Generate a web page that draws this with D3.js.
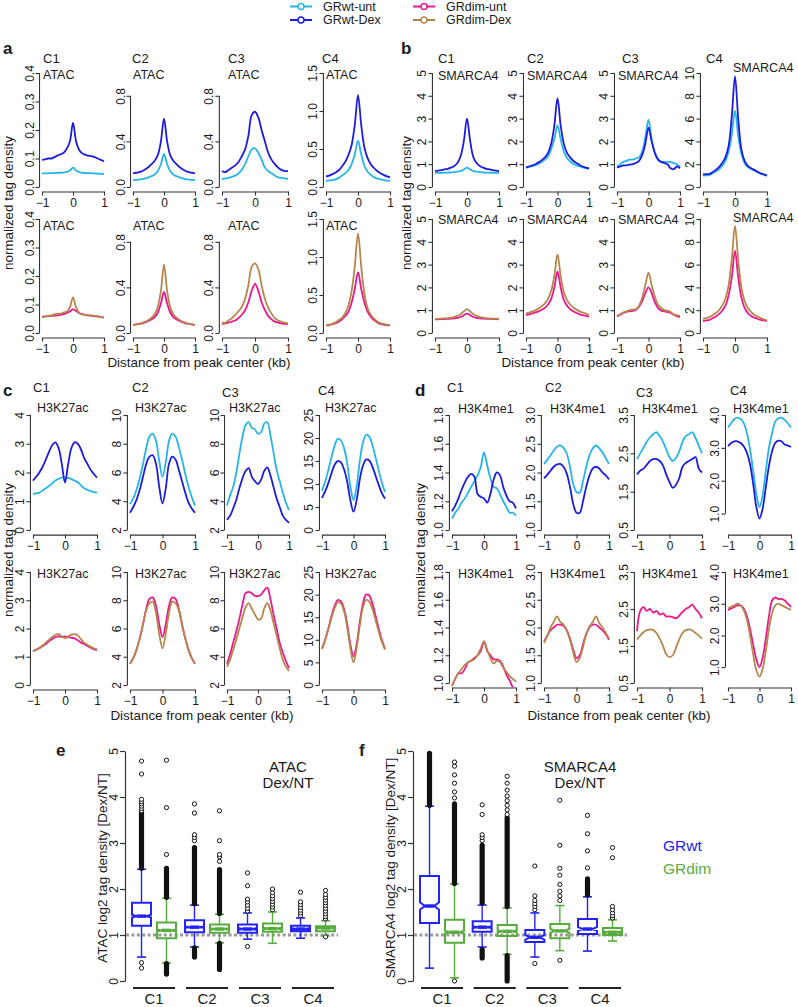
<!DOCTYPE html>
<html>
<head>
<meta charset="utf-8">
<script src="https://cdn.jsdelivr.net/npm/d3@7"></script>
<style>
  body { margin: 0; background: #fff; }
  svg text { font-family: "Liberation Sans", Arial, sans-serif; fill: #1a1a1a; }
</style>
</head>
<body>
<svg id="fig" width="798" height="1007"></svg>
<script>
// ---- data ----
var distKb = [-1,-0.9,-0.8,-0.7,-0.6,-0.5,-0.4,-0.3,-0.2,-0.1,0,0.1,0.2,0.3,0.4,0.5,0.6,0.7,0.8,0.9,1];
var clusters = ["C1", "C2", "C3", "C4"];

// a: ATAC
var atacWtUnt = [
  [0.048,0.048,0.048,0.049,0.049,0.05,0.05,0.051,0.053,0.058,0.068,0.058,0.052,0.05,0.049,0.049,0.048,0.048,0.047,0.046,0.045],
  [0.06,0.062,0.065,0.07,0.075,0.085,0.095,0.11,0.14,0.2,0.29,0.2,0.14,0.11,0.095,0.085,0.075,0.07,0.065,0.062,0.06],
  [0.07,0.075,0.08,0.09,0.1,0.12,0.15,0.2,0.27,0.33,0.34,0.3,0.24,0.17,0.14,0.12,0.1,0.085,0.08,0.075,0.07],
  [0.08,0.085,0.09,0.1,0.12,0.15,0.18,0.22,0.3,0.43,0.61,0.43,0.28,0.2,0.16,0.13,0.11,0.1,0.09,0.085,0.08]
];
var atacWtDex = [
  [0.095,0.097,0.1,0.1,0.105,0.11,0.115,0.12,0.135,0.16,0.225,0.16,0.13,0.118,0.113,0.11,0.108,0.105,0.1,0.095,0.09],
  [0.12,0.125,0.13,0.14,0.155,0.175,0.2,0.23,0.28,0.4,0.6,0.4,0.28,0.23,0.2,0.175,0.155,0.14,0.13,0.125,0.12],
  [0.14,0.13,0.15,0.17,0.19,0.22,0.27,0.33,0.45,0.63,0.66,0.61,0.5,0.4,0.3,0.24,0.2,0.17,0.15,0.14,0.14],
  [0.14,0.15,0.17,0.19,0.22,0.27,0.33,0.42,0.55,0.82,1.21,0.82,0.52,0.38,0.3,0.25,0.21,0.18,0.16,0.14,0.13]
];
var atacDimUnt = [
  [0.057,0.058,0.059,0.06,0.061,0.062,0.064,0.066,0.07,0.076,0.083,0.077,0.07,0.066,0.063,0.062,0.06,0.059,0.058,0.056,0.055],
  [0.07,0.075,0.08,0.085,0.095,0.105,0.12,0.14,0.18,0.26,0.36,0.26,0.18,0.14,0.12,0.105,0.095,0.085,0.08,0.075,0.07],
  [0.08,0.085,0.09,0.1,0.11,0.13,0.16,0.2,0.27,0.37,0.43,0.37,0.27,0.2,0.15,0.12,0.1,0.09,0.085,0.08,0.08],
  [0.1,0.105,0.115,0.13,0.15,0.18,0.22,0.28,0.4,0.58,0.8,0.58,0.4,0.28,0.21,0.17,0.14,0.12,0.11,0.1,0.1]
];
var atacDimDex = [
  [0.055,0.058,0.06,0.062,0.065,0.068,0.068,0.072,0.075,0.09,0.125,0.09,0.07,0.065,0.063,0.062,0.062,0.06,0.058,0.056,0.054],
  [0.07,0.075,0.08,0.09,0.1,0.115,0.135,0.165,0.23,0.37,0.6,0.37,0.23,0.165,0.135,0.115,0.1,0.09,0.08,0.075,0.07],
  [0.09,0.09,0.11,0.13,0.16,0.19,0.23,0.3,0.42,0.58,0.61,0.56,0.42,0.3,0.22,0.17,0.13,0.11,0.1,0.09,0.085],
  [0.1,0.11,0.12,0.14,0.17,0.2,0.26,0.36,0.55,0.88,1.31,0.88,0.52,0.33,0.24,0.19,0.15,0.13,0.12,0.11,0.1]
];

// b: SMARCA4
var smarcaWtUnt = [
  [0.62,0.62,0.62,0.63,0.63,0.64,0.65,0.67,0.7,0.77,0.85,0.77,0.7,0.67,0.65,0.64,0.63,0.63,0.62,0.62,0.62],
  [0.85,0.88,0.92,0.96,1.02,1.1,1.2,1.35,1.65,2.1,2.7,2.1,1.55,1.28,1.12,1.02,0.95,0.9,0.86,0.83,0.8],
  [0.9,1.0,1.1,1.15,1.2,1.2,1.25,1.3,1.55,2.2,2.95,2.1,1.5,1.25,1.1,1.1,1.1,1.1,1.05,1.0,0.9],
  [1.0,1.02,1.05,1.2,1.35,1.55,1.85,2.3,3.1,4.6,6.7,4.5,2.9,2.1,1.75,1.6,1.45,1.3,1.18,1.08,1.0]
];
var smarcaWtDex = [
  [0.7,0.72,0.74,0.77,0.8,0.85,0.92,1.05,1.35,2.0,3.0,2.0,1.3,1.05,0.92,0.85,0.8,0.77,0.74,0.72,0.7],
  [0.85,0.9,0.95,1.0,1.08,1.18,1.3,1.5,1.9,2.7,3.9,2.7,1.9,1.5,1.3,1.15,1.05,0.97,0.9,0.85,0.82],
  [0.85,0.9,0.95,0.95,0.98,1.0,1.05,1.15,1.4,1.9,2.6,2.0,1.5,1.2,1.1,1.05,1.0,0.82,0.78,0.9,0.82],
  [1.1,1.12,1.15,1.3,1.5,1.75,2.1,2.6,3.6,6.2,9.7,6.0,3.3,2.3,1.85,1.65,1.5,1.35,1.2,1.1,1.0]
];
var smarcaDimUnt = [
  [0.6,0.6,0.61,0.61,0.62,0.63,0.64,0.66,0.7,0.78,0.85,0.78,0.7,0.66,0.64,0.63,0.62,0.62,0.61,0.61,0.6],
  [0.78,0.82,0.86,0.9,0.95,1.02,1.1,1.25,1.5,2.0,2.7,2.0,1.45,1.2,1.05,0.95,0.88,0.82,0.78,0.75,0.72],
  [0.72,0.8,0.88,0.93,0.95,0.97,1.02,1.15,1.4,1.75,2.0,1.75,1.35,1.1,0.98,0.95,0.92,0.88,0.8,0.74,0.7],
  [1.05,1.1,1.15,1.3,1.45,1.65,1.95,2.4,3.3,4.9,7.2,4.9,3.1,2.2,1.75,1.5,1.35,1.25,1.15,1.1,1.05]
];
var smarcaDimDex = [
  [0.62,0.62,0.63,0.64,0.65,0.67,0.7,0.75,0.82,0.95,1.05,0.95,0.82,0.75,0.7,0.67,0.65,0.64,0.63,0.63,0.62],
  [0.85,0.9,0.95,1.0,1.08,1.17,1.3,1.5,1.85,2.5,3.45,2.5,1.8,1.45,1.25,1.12,1.03,0.95,0.9,0.85,0.8],
  [0.75,0.82,0.9,0.95,1.0,1.02,1.05,1.2,1.55,2.1,2.65,2.1,1.6,1.25,1.1,1.0,0.98,0.92,0.82,0.78,0.75],
  [1.25,1.3,1.4,1.55,1.75,2.0,2.4,3.0,4.2,6.5,9.4,6.4,4.0,2.8,2.2,1.85,1.6,1.45,1.3,1.2,1.1]
];

// c: H3K27ac
var k27WtUnt = [
  [1.25,1.27,1.3,1.37,1.45,1.53,1.62,1.72,1.78,1.82,1.82,1.81,1.77,1.72,1.66,1.55,1.45,1.4,1.35,1.32,1.3],
  [3.8,4.2,4.8,5.6,6.6,7.7,8.5,8.7,8.2,6.8,5.7,6.7,8.2,8.7,8.5,7.8,6.9,5.9,5.0,4.3,3.7],
  [3.7,4.4,5.0,6.0,7.3,8.5,9.3,9.5,9.1,9.0,8.7,8.8,9.4,9.5,8.6,7.4,6.2,5.4,4.6,3.9,3.4],
  [8.5,10.5,13,15.8,18.3,19.8,19.5,17.8,14.5,9.5,6.5,9.5,15,19,20.7,20.3,18.5,15.8,13,10.3,8.3]
];
var k27WtDex = [
  [1.72,1.85,2.0,2.2,2.45,2.72,2.95,3.05,2.85,2.3,1.65,2.3,2.85,3.05,3.0,2.8,2.5,2.3,2.1,1.95,1.82],
  [3.2,3.6,4.1,4.8,5.7,6.6,7.1,7.2,6.6,5.0,3.85,4.9,6.6,7.1,6.9,6.2,5.4,4.6,3.9,3.5,3.2],
  [2.7,3.0,3.5,4.1,4.9,5.6,6.1,6.3,5.7,5.4,5.2,5.5,6.1,6.35,5.8,5.0,4.2,3.6,3.0,2.7,2.5],
  [7,8.4,10.2,12.3,14.2,15,14.7,13.2,10.5,6.5,4,6.5,11,14,15.3,15.1,13.8,11.8,9.8,8,6.8]
];
var k27DimUnt = [
  [1.2,1.25,1.3,1.38,1.45,1.55,1.62,1.7,1.72,1.7,1.72,1.7,1.67,1.65,1.58,1.5,1.45,1.38,1.32,1.27,1.23],
  [3.5,3.9,4.5,5.3,6.3,7.4,8.1,8.2,7.6,6.3,5.4,6.3,7.6,8.2,8.1,7.4,6.3,5.3,4.5,3.9,3.5],
  [3.5,4.2,5.0,5.8,6.7,7.7,8.5,8.6,8.5,8.3,8.3,8.4,8.7,8.9,8.1,7.0,6.0,5.0,4.3,3.7,3.2],
  [8,10,12.5,15.2,17.5,18.8,18.5,16.8,13.5,9,6.3,9,14,18,20,19.8,18,15.3,12.5,10,8]
];
var k27DimDex = [
  [1.2,1.25,1.32,1.4,1.5,1.6,1.7,1.78,1.8,1.72,1.65,1.72,1.78,1.8,1.75,1.62,1.5,1.42,1.35,1.3,1.27],
  [3.5,3.9,4.5,5.3,6.3,7.3,7.8,7.9,7.1,5.6,4.6,5.6,7.1,7.9,7.8,7.3,6.3,5.3,4.5,3.9,3.5],
  [3.3,3.8,4.5,5.2,6.0,6.8,7.5,7.8,7.4,7.0,6.65,6.7,7.4,7.8,7.3,6.4,5.5,4.6,3.8,3.3,3.0],
  [8,10,12.3,14.8,17,18.3,18,16.3,12.8,8.2,5,8.2,13.2,17.2,18.8,18.5,16.8,14.4,11.8,9.6,7.8]
];

// d: H3K4me1
var k4WtUnt = [
  [1.08,1.12,1.15,1.19,1.22,1.26,1.3,1.34,1.38,1.44,1.54,1.45,1.36,1.3,1.29,1.25,1.2,1.16,1.12,1.12,1.1],
  [2.15,2.22,2.3,2.38,2.45,2.47,2.43,2.33,2.1,1.8,1.66,1.65,1.85,2.1,2.3,2.42,2.47,2.42,2.35,2.25,2.15],
  [2.35,2.5,2.65,2.8,2.92,3.0,3.05,2.95,2.8,2.6,2.4,2.3,2.38,2.55,2.8,2.95,3.0,3.05,2.9,2.7,2.5],
  [3.62,3.75,3.88,3.92,3.88,3.75,3.45,2.95,2.3,1.6,1.2,1.55,2.3,3.0,3.45,3.8,3.9,3.92,3.85,3.75,3.62]
];
var k4WtDex = [
  [1.13,1.17,1.22,1.28,1.33,1.37,1.39,1.37,1.25,1.23,1.22,1.19,1.25,1.35,1.4,1.38,1.3,1.24,1.2,1.19,1.15],
  [1.9,1.96,2.03,2.1,2.14,2.15,2.1,1.98,1.75,1.45,1.3,1.3,1.5,1.75,1.95,2.07,2.1,2.07,2.0,1.95,1.88],
  [1.95,2.05,2.1,2.2,2.3,2.35,2.35,2.3,2.18,1.95,1.75,1.6,1.68,1.85,2.15,2.25,2.3,2.35,2.4,2.1,2.0],
  [3.05,3.15,3.2,3.2,3.15,3.05,2.85,2.5,1.9,1.2,0.85,1.15,1.8,2.45,2.9,3.15,3.22,3.2,3.1,3.07,3.03]
];
var k4DimUnt = [
  [0.98,1.03,1.07,1.07,1.1,1.15,1.16,1.18,1.2,1.23,1.3,1.23,1.2,1.17,1.17,1.16,1.12,1.06,1.02,0.97,0.95],
  [1.75,1.85,1.95,2.0,2.05,2.05,2.03,1.95,1.8,1.6,1.45,1.5,1.7,1.88,2.0,2.05,2.05,2.0,1.95,1.88,1.78],
  [1.9,2.45,2.55,2.45,2.5,2.4,2.45,2.35,2.38,2.3,2.3,2.28,2.25,2.32,2.42,2.5,2.55,2.62,2.5,2.4,2.25],
  [2.8,2.85,2.9,2.95,2.95,2.85,2.6,2.2,1.7,1.25,1.0,1.3,1.9,2.6,3.1,3.2,3.15,3.15,3.1,3.0,2.9]
];
var k4DimDex = [
  [0.98,1.03,1.07,1.1,1.13,1.15,1.16,1.17,1.2,1.25,1.3,1.24,1.18,1.14,1.16,1.15,1.11,1.08,1.05,1.03,1.01],
  [1.72,1.85,2.0,2.1,2.2,2.1,2.05,1.95,1.78,1.55,1.38,1.45,1.65,1.88,2.02,2.1,2.2,2.08,2.0,1.9,1.8],
  [1.68,1.78,1.87,1.93,1.95,1.93,1.85,1.7,1.5,1.28,1.2,1.25,1.45,1.68,1.85,1.93,1.95,1.92,1.85,1.78,1.7],
  [2.85,2.9,2.95,3.0,2.95,2.8,2.5,2.0,1.4,0.9,0.7,0.95,1.5,2.2,2.7,2.95,3.0,2.95,2.9,2.85,2.8]
];

// e/f: boxplot stats [lower whisker, Q1, median, Q3, upper whisker]
var atacBoxWt  = [[0.52,1.2,1.41,1.7,2.43],[0.74,1.06,1.17,1.32,1.65],[0.91,1.05,1.13,1.23,1.48],[0.93,1.08,1.13,1.2,1.37]];
var atacBoxDim = [[0.39,0.93,1.1,1.27,1.8],[0.83,1.05,1.13,1.23,1.45],[0.82,1.07,1.14,1.25,1.5],[0.98,1.08,1.15,1.19,1.31]];
var atacNotchWt  = [0.03,0.015,0.02,0.02];
var atacNotchDim = [0.02,0.015,0.02,0.02];
var atacOutWt  = [[3.7,3.75,3.8,3.85,3.9,3.95,4.5,4.78,0.28,0.4],[3.05,3.12,3.18,3.65,3.85],[1.52,1.58,1.65,1.72,1.78,2.07,2.35,0.75],[1.42,1.48,1.54,1.6,1.66,1.72,1.93]];
var atacOutDim = [[2.75,3.77,4.8],[2.6,2.7,2.75,3.05,3.7],[1.55,1.61,1.67,1.73,1.79,1.85,1.92,2.0],[1.35,1.4,1.46,1.52,1.58,1.64,1.7,1.76,1.82,1.88,1.97,0.96]];
var atacRunsWt  = [[[2.45,3.65]],[[1.68,2.9],[0.52,0.72]],[],[]];
var atacRunsDim = [[[1.82,2.45],[0.15,0.38]],[[1.47,2.42],[0.25,0.82]],[],[]];

var smarcaBoxWt  = [[0.28,1.26,1.63,2.28,3.8],[0.74,1.07,1.17,1.3,1.65],[0.52,0.85,0.95,1.11,1.48],[0.65,1.02,1.13,1.35,1.83]];
var smarcaBoxDim = [[0.07,0.83,1.06,1.33,2.11],[0.58,0.98,1.08,1.22,1.59],[0.66,0.93,1.09,1.24,1.64],[0.87,1.0,1.06,1.15,1.33]];
var smarcaNotchWt  = [0.08,0.02,0.05,0.04];
var smarcaNotchDim = [0.03,0.02,0.04,0.02];
var smarcaOutWt  = [[],[3.05,3.12,3.18,3.62,3.83],[1.55,1.62,1.68,1.75,1.85,2.5,0.38],[2.46,2.83,3.2,3.6]];
var smarcaOutDim = [[3.98,4.11,4.3,4.48,4.67,4.76,0.0],[3.62,3.72,3.82,3.92,4.02,4.15,4.3,4.45],[1.75,1.85,1.95,2.1,2.3,2.45,2.95,3.93,0.45],[1.37,1.42,1.48,1.55,1.62,2.68,2.9]];
var smarcaRunsWt  = [[[3.82,4.95]],[[1.7,2.95],[0.5,0.68]],[],[[1.87,2.22]]];
var smarcaRunsDim = [[[2.12,3.85]],[[1.62,3.55],[0.0,0.55]],[],[]];

// ---- colours ----
var colWtUnt = "#27b4ec", colWtDex = "#1c1ce0", colDimUnt = "#ec178c", colDimDex = "#b7864c";
var boxBlue = "#2222ff", boxGreen = "#58ac3e";
var axisCol = "#333";

var svg = d3.select("#fig");
var defs = svg.append("defs");

// top legend
var legendItems = [
  {name: "GRwt-unt", color: colWtUnt, x: 290, y: 6.5},
  {name: "GRwt-Dex", color: colWtDex, x: 290, y: 20},
  {name: "GRdim-unt", color: colDimUnt, x: 413, y: 6.5},
  {name: "GRdim-Dex", color: colDimDex, x: 413, y: 20}
];
legendItems.forEach(function(d) {
  svg.append("line").attr("x1", d.x).attr("x2", d.x + 22).attr("y1", d.y).attr("y2", d.y)
    .attr("stroke", d.color).attr("stroke-width", 2);
  svg.append("circle").attr("cx", d.x + 11).attr("cy", d.y).attr("r", 3)
    .attr("fill", "#fff").attr("stroke", d.color).attr("stroke-width", 1.5);
  svg.append("text").attr("x", d.x + 33).attr("y", d.y).attr("dy", "0.35em")
    .attr("font-size", 12.5).text(d.name);
});

function rotLabel(x, y, txt, size) {
  svg.append("text").attr("transform", "translate(" + x + "," + y + ") rotate(-90)")
    .attr("text-anchor", "middle").attr("dy", "0.35em").attr("font-size", size).text(txt);
}

// profile panels a-d
function drawProfiles(p) {
  svg.append("text").attr("x", p.letter[1]).attr("y", p.letter[2]).attr("dy", "0.35em")
    .attr("font-size", 17).attr("font-weight", "bold").text(p.letter[0]);
  rotLabel(p.yLabel[0], p.yLabel[1], "normalized tag density", 13.4);
  svg.append("text").attr("x", p.xLabel[0]).attr("y", p.xLabel[1]).attr("dy", "0.35em")
    .attr("text-anchor", "middle").attr("font-size", 13.4).text("Distance from peak center (kb)");

  p.cols.forEach(function(col, ci) {
    svg.append("text").attr("x", p.titleX[ci]).attr("y", p.titleY[ci]).attr("dy", "0.35em")
      .attr("font-size", 13).text(clusters[ci]);

    p.rows.forEach(function(row, ri) {
      var x = d3.scaleLinear().domain([-1, 1]).range(col);
      var y = d3.scaleLinear().domain(p.domains[ci]).range([row.bot, row.top]);
      var padX = 0.04 * (col[1] - col[0]), padY = 0.04 * (row.bot - row.top);
      var left = col[0] - padX, right = col[1] + padX;
      var top = row.top - padY, bottom = row.bot + padY;

      var id = "clip-" + p.letter[0] + ci + ri;
      defs.append("clipPath").attr("id", id).append("rect")
        .attr("x", left).attr("y", top).attr("width", right - left).attr("height", bottom - top);

      var tv = p.ticks[ci];
      var gy = svg.append("g").attr("transform", "translate(" + left + ",0)")
        .call(d3.axisLeft(y).tickValues(tv).tickSize(4).tickSizeOuter(0).tickFormat(d3.format(p.fmt)));
      gy.select(".domain").attr("d", "M0," + y(tv[0]) + "V" + y(tv[tv.length - 1]));
      gy.selectAll(".tick text").attr("x", 0).attr("y", -6).attr("dy", null)
        .attr("text-anchor", "middle").attr("transform", "rotate(-90)");

      var gx = svg.append("g").attr("transform", "translate(0," + bottom + ")")
        .call(d3.axisBottom(x).tickValues([-1, 0, 1]).tickSize(4).tickSizeOuter(0).tickFormat(d3.format("d")));

      [gy, gx].forEach(function(g) {
        g.attr("font-size", 12).attr("font-family", null);
        g.selectAll("path, line").attr("stroke", axisCol).attr("stroke-width", 1.1);
        g.selectAll("text").attr("fill", "#1a1a1a");
      });

      var line = d3.line()
        .x(function(d, i) { return x(distKb[i]); })
        .y(function(d) { return y(d); })
        .curve(d3.curveCatmullRom.alpha(0.5));

      row.series.forEach(function(s) {
        svg.append("path").datum(s.data[ci])
          .attr("clip-path", "url(#" + id + ")")
          .attr("fill", "none").attr("stroke", s.color).attr("stroke-width", 1.8)
          .attr("stroke-linejoin", "round").attr("d", line);
      });

      var my = (p.markY[ci] || row.markY)[ri];
      svg.append("text").attr("x", p.markX[ci]).attr("y", my).attr("dy", "0.35em")
        .attr("font-size", 12.5).text(p.mark);
    });
  });
}

drawProfiles({
  letter: ["a", 3, 48], mark: "ATAC",
  yLabel: [8, 203], xLabel: [199, 362],
  cols: [[42, 104], [133, 195], [222, 288], [326, 390]],
  titleX: [43, 132, 228, 322], titleY: [58, 58, 58, 58],
  markX: [43, 133, 228, 326], markY: [null, null, null, null],
  domains: [[0, 0.4], [0, 1], [0, 1], [0, 1.5]],
  ticks: [[0, 0.1, 0.2, 0.3, 0.4], [0, 0.4, 0.8], [0, 0.4, 0.8], [0, 0.5, 1, 1.5]], fmt: ".1f",
  rows: [
    {top: 73, bot: 187, markY: [75, 226], series: [{data: atacWtUnt, color: colWtUnt}, {data: atacWtDex, color: colWtDex}]},
    {top: 219, bot: 333, markY: [75, 226], series: [{data: atacDimUnt, color: colDimUnt}, {data: atacDimDex, color: colDimDex}]}
  ]
});

drawProfiles({
  letter: ["b", 401, 48], mark: "SMARCA4",
  yLabel: [406, 203], xLabel: [593, 362],
  cols: [[435, 499], [526, 589], [617, 680], [703, 767]],
  titleX: [438, 527, 622, 706], titleY: [58, 58, 58, 58],
  markX: [438, 527, 618, 733], markY: [null, null, null, [68, 218]],
  domains: [[0, 5], [0, 5], [0, 5], [0, 10]],
  ticks: [[0, 1, 2, 3, 4, 5], [0, 1, 2, 3, 4, 5], [0, 1, 2, 3, 4, 5], [0, 2, 4, 6, 8, 10]], fmt: "d",
  rows: [
    {top: 73, bot: 187, markY: [76, 220], series: [{data: smarcaWtUnt, color: colWtUnt}, {data: smarcaWtDex, color: colWtDex}]},
    {top: 219, bot: 333, markY: [76, 220], series: [{data: smarcaDimUnt, color: colDimUnt}, {data: smarcaDimDex, color: colDimDex}]}
  ]
});

drawProfiles({
  letter: ["c", 3, 390], mark: "H3K27ac",
  yLabel: [8, 550], xLabel: [202, 715],
  cols: [[33, 97], [130, 195], [227, 289], [322, 385]],
  titleX: [33, 132, 222, 318], titleY: [387, 387, 392, 390],
  markX: [37, 135, 229, 325], markY: [null, null, null, null],
  domains: [[0, 4], [2, 10], [2, 10], [0, 25]],
  ticks: [[0, 1, 2, 3, 4], [2, 4, 6, 8, 10], [2, 4, 6, 8, 10], [0, 5, 10, 15, 20, 25]], fmt: "d",
  rows: [
    {top: 415, bot: 530, markY: [408, 574], series: [{data: k27WtUnt, color: colWtUnt}, {data: k27WtDex, color: colWtDex}]},
    {top: 572, bot: 685, markY: [408, 574], series: [{data: k27DimUnt, color: colDimUnt}, {data: k27DimDex, color: colDimDex}]}
  ]
});

drawProfiles({
  letter: ["d", 415, 390], mark: "H3K4me1",
  yLabel: [420, 550], xLabel: [619, 715],
  cols: [[452, 516], [544, 609], [637, 702], [728, 791]],
  titleX: [447, 545, 636, 730], titleY: [387, 387, 392, 390],
  markX: [458, 550, 642, 733], markY: [null, null, null, null],
  domains: [[1, 1.8], [1, 3], [0.5, 3.5], [0.5, 4]],
  ticks: [[1, 1.2, 1.4, 1.6, 1.8], [1, 1.5, 2, 2.5, 3], [0.5, 1.5, 2.5, 3.5], [1, 2, 3, 4]], fmt: ".1f",
  rows: [
    {top: 415, bot: 530, markY: [409, 574], series: [{data: k4WtUnt, color: colWtUnt}, {data: k4WtDex, color: colWtDex}]},
    {top: 572, bot: 683, markY: [409, 574], series: [{data: k4DimUnt, color: colDimUnt}, {data: k4DimDex, color: colDimDex}]}
  ]
});

// box plot panels e-f
function drawBoxes(p) {
  var y = d3.scaleLinear().domain([0, 5]).range([981, 751]);
  var cx = d3.scalePoint().domain(clusters).range(p.centers);
  var boxW = 19;

  svg.append("text").attr("x", p.letter[1]).attr("y", p.letter[2]).attr("dy", "0.35em")
    .attr("font-size", 17).attr("font-weight", "bold").text(p.letter[0]);
  rotLabel(p.yLabel[0], 868, p.yText, 13.5);
  p.title.forEach(function(t, i) {
    svg.append("text").attr("x", p.titleX).attr("y", 767 + i * 16).attr("dy", "0.35em")
      .attr("text-anchor", "middle").attr("font-size", 15).text(t);
  });

  var gy = svg.append("g").attr("transform", "translate(" + p.axisX + ",0)")
    .call(d3.axisLeft(y).tickValues([0, 1, 2, 3, 4, 5]).tickSize(5).tickSizeOuter(0).tickFormat(d3.format("d")));
  gy.attr("font-size", 12).attr("font-family", null);
  gy.selectAll("path, line").attr("stroke", axisCol).attr("stroke-width", 1.2);
  gy.selectAll(".tick text").attr("x", 0).attr("y", -7).attr("dy", null)
    .attr("text-anchor", "middle").attr("transform", "rotate(-90)").attr("fill", "#1a1a1a");

  svg.append("line").attr("x1", p.axisX + 1).attr("x2", p.dotEnd).attr("y1", y(1)).attr("y2", y(1))
    .attr("stroke", "#9a9a9a").attr("stroke-width", 3).attr("stroke-dasharray", "3,2.4");

  p.groups.forEach(function(grp) {
    clusters.forEach(function(c, i) {
      var bx = cx(c) + grp.dx;
      var s = grp.stats[i], n = grp.notch[i];
      var g = svg.append("g");
      // whiskers
      g.append("line").attr("x1", bx).attr("x2", bx).attr("y1", y(s[3])).attr("y2", y(s[4]))
        .attr("stroke", grp.color).attr("stroke-width", 1.4);
      g.append("line").attr("x1", bx).attr("x2", bx).attr("y1", y(s[1])).attr("y2", y(s[0]))
        .attr("stroke", grp.color).attr("stroke-width", 1.4);
      [s[0], s[4]].forEach(function(v) {
        g.append("line").attr("x1", bx - 4.5).attr("x2", bx + 4.5).attr("y1", y(v)).attr("y2", y(v))
          .attr("stroke", grp.color).attr("stroke-width", 1.6);
      });
      // notched box
      var h = boxW / 2, q = boxW / 4;
      var pts = [[bx - h, y(s[1])], [bx + h, y(s[1])], [bx + h, y(s[2] - n)], [bx + q, y(s[2])],
                 [bx + h, y(s[2] + n)], [bx + h, y(s[3])], [bx - h, y(s[3])], [bx - h, y(s[2] + n)],
                 [bx - q, y(s[2])], [bx - h, y(s[2] - n)]];
      g.append("path").attr("d", "M" + pts.join("L") + "Z")
        .attr("fill", "none").attr("stroke", grp.color).attr("stroke-width", 2);
      g.append("line").attr("x1", bx - q).attr("x2", bx + q).attr("y1", y(s[2])).attr("y2", y(s[2]))
        .attr("stroke", grp.color).attr("stroke-width", 3.5);
      // dense outlier runs
      grp.runs[i].forEach(function(r) {
        g.append("line").attr("x1", bx).attr("x2", bx).attr("y1", y(r[0])).attr("y2", y(r[1]))
          .attr("stroke", "#111").attr("stroke-width", 5.2).attr("stroke-linecap", "round");
      });
      // single outliers
      g.selectAll("circle.o").data(grp.out[i]).enter().append("circle")
        .attr("cx", bx).attr("cy", function(d) { return y(d); }).attr("r", 2.1)
        .attr("fill", "#fff").attr("stroke", "#111").attr("stroke-width", 1);
    });
  });

  clusters.forEach(function(c) {
    svg.append("line").attr("x1", cx(c) - 21).attr("x2", cx(c) + 21).attr("y1", 988).attr("y2", 988)
      .attr("stroke", "#222").attr("stroke-width", 2);
    svg.append("text").attr("x", cx(c)).attr("y", 999).attr("dy", "0.35em")
      .attr("text-anchor", "middle").attr("font-size", 15).text(c);
  });
}

drawBoxes({
  letter: ["e", 56, 750], yLabel: [102], yText: "ATAC log2 tag density [Dex/NT]",
  title: ["ATAC", "Dex/NT"], titleX: 288,
  axisX: 125, dotEnd: 338, centers: [154, 313],
  groups: [
    {stats: atacBoxWt, notch: atacNotchWt, out: atacOutWt, runs: atacRunsWt, color: boxBlue, dx: -12.5},
    {stats: atacBoxDim, notch: atacNotchDim, out: atacOutDim, runs: atacRunsDim, color: boxGreen, dx: 12.5}
  ]
});

drawBoxes({
  letter: ["f", 359, 750], yLabel: [390], yText: "SMARCA4 log2 tag density [Dex/NT]",
  title: ["SMARCA4", "Dex/NT"], titleX: 580,
  axisX: 413, dotEnd: 627, centers: [442, 600],
  groups: [
    {stats: smarcaBoxWt, notch: smarcaNotchWt, out: smarcaOutWt, runs: smarcaRunsWt, color: boxBlue, dx: -12.5},
    {stats: smarcaBoxDim, notch: smarcaNotchDim, out: smarcaOutDim, runs: smarcaRunsDim, color: boxGreen, dx: 12.5}
  ]
});

svg.append("text").attr("x", 663).attr("y", 846).attr("dy", "0.35em").attr("font-size", 15.5)
  .style("fill", boxBlue).text("GRwt");
svg.append("text").attr("x", 663).attr("y", 869).attr("dy", "0.35em").attr("font-size", 15.5)
  .style("fill", boxGreen).text("GRdim");
</script>
</body>
</html>
